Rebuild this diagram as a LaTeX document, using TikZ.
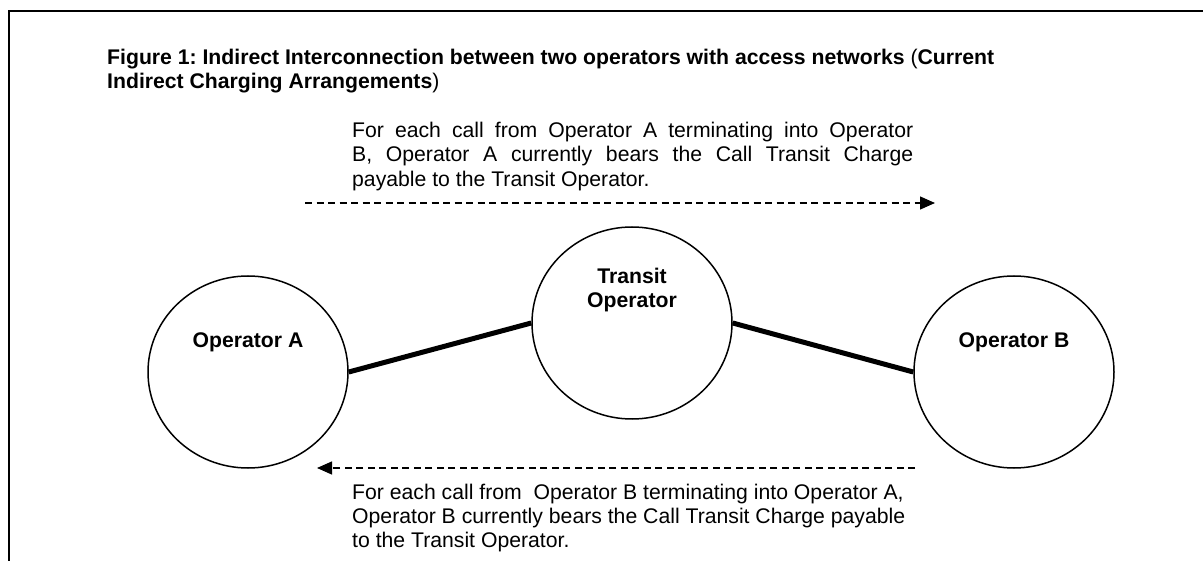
\documentclass[tikz,border=0pt]{standalone}
\usepackage{fontspec}
\setmainfont{Liberation Sans}
\usetikzlibrary{shapes.geometric, arrows.meta}
\frenchspacing

\tikzset{
  every node/.style={font=\fontsize{21.2pt}{24.4pt}\selectfont, inner sep=0pt},
  oper/.style={draw, ellipse, line width=1.5pt, minimum width=200pt, minimum height=192pt},
  opname/.style={font=\fontsize{21.2pt}{24.4pt}\selectfont\bfseries, align=center},
  link/.style={line width=5pt},
  flow/.style={line width=1.3pt, dash pattern=on 7pt off 4.5pt, -{Triangle[length=15pt, width=13pt]}}
}

\begin{document}
\begin{tikzpicture}[x=1pt, y=-1pt]
  \useasboundingbox (0,0) rectangle (1203,561);

  % page frame
  \draw[line width=2pt] (1203,11) -- (9,11) -- (9,561);

  \node[anchor=north west, align=left] (title) at (107,49)
    {\textbf{Figure 1: Indirect Interconnection between two operators with access networks} (\textbf{Current}\\
     \textbf{Indirect Charging Arrangements})};

  % the three networks
  \node[oper] (opA) at (248,372) {};
  \node[oper] (transit) at (632,323) {};
  \node[oper] (opB) at (1014,372) {};
  \node[opname] (opAname) at ([yshift=30pt]opA.center) {Operator A};
  \node[opname] (transitname) at ([yshift=33pt]transit.center) {Transit\\Operator};
  \node[opname] (opBname) at ([yshift=30pt]opB.center) {Operator B};

  \draw[link] (opA.east) -- (transit.west);
  \draw[link] (transit.east) -- (opB.west);

  % A to B
  \node[anchor=north west, text width=561pt, align=justify] (noteAB) at (352,122)
    {For each call from Operator A terminating into Operator\linebreak
     B, Operator A currently bears the Call Transit Charge\linebreak
     payable to the Transit Operator.};
  \coordinate (abStart) at (305,203);
  \coordinate (abEnd) at (935,203);
  \draw[flow] (abStart) -- (abEnd);

  % B to A
  \coordinate (baStart) at (915,468);
  \coordinate (baEnd) at (317,468);
  \draw[flow] (baStart) -- (baEnd);
  \node[anchor=north west, align=left] (noteBA) at (352,483.5)
    {For each call from\ \ Operator B terminating into Operator A,\\
     Operator B currently bears the Call Transit Charge payable\\
     to the Transit Operator.};
\end{tikzpicture}
\end{document}
